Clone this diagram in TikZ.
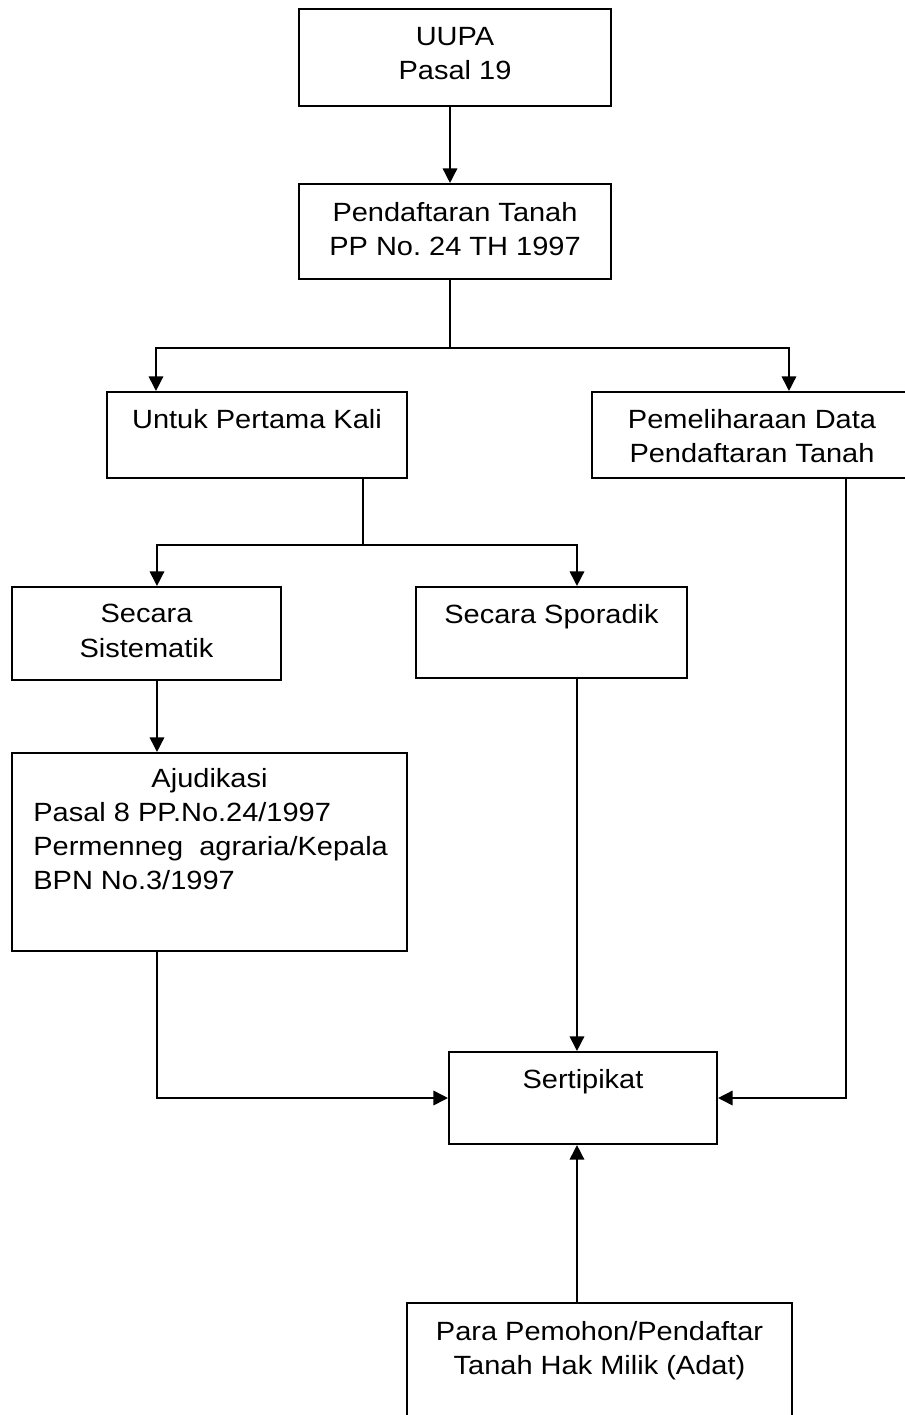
\documentclass[tikz,border=0pt]{standalone}
\usepackage{fontspec}
\setmainfont{Liberation Sans}[FakeStretch=1.1]
\usepackage{tikz}
\usetikzlibrary{calc, arrows.meta, positioning}

\tikzset{
  kotak/.style={draw, line width=1.2pt, inner sep=0pt},
  isi/.style={align=center, inner sep=0pt, anchor=north, font=\fontsize{15}{19.5}\selectfont\frenchspacing},
  panah/.style={line width=0.9pt, -{Triangle[length=0.29cm, width=0.29cm]}},
  garis/.style={line width=0.9pt}
}

\begin{document}
\begin{tikzpicture}[x=0.02cm, y=-0.02cm]
\clip (0,0) rectangle (905,1415);
\fill[white] (0,0) rectangle (905,1415);

% kotak-kotak
\node[kotak, minimum width=6.24cm, minimum height=1.94cm] (uupa) at (455,57.5) {};
\node[kotak, minimum width=6.24cm, minimum height=1.90cm] (daftar) at (455,231.5) {};
\node[kotak, minimum width=6.00cm, minimum height=1.72cm] (pertama) at (257,435) {};
\node[kotak, minimum width=6.40cm, minimum height=1.72cm] (pelihara) at (752,435) {};
\node[kotak, minimum width=5.38cm, minimum height=1.86cm] (sistematik) at (146.5,633.5) {};
\node[kotak, minimum width=5.42cm, minimum height=1.82cm] (sporadik) at (551.5,632.5) {};
\node[kotak, minimum width=7.90cm, minimum height=3.96cm] (ajudikasi) at (209.5,852) {};
\node[kotak, minimum width=5.36cm, minimum height=1.84cm] (sertipikat) at (583,1098) {};
\node[kotak, minimum width=7.70cm, minimum height=2.74cm] (pemohon) at (599.5,1371.5) {};

% tulisan
\node[isi] (tuupa) at (455,27) {UUPA\\Pasal 19};
\node[isi] (tdaftar) at (455,202) {Pendaftaran Tanah\\PP No. 24 TH 1997};
\node[isi] (tpertama) at (257,409) {Untuk Pertama Kali};
\node[isi] (tpelihara) at (752,409) {Pemeliharaan Data\\Pendaftaran Tanah};
\node[isi] (tsistematik) at (146.5,604) {Secara\\Sistematik};
\node[isi] (tsporadik) at (551.5,604) {Secara Sporadik};
\node[isi] (tajudikasi) at (209.5,768) {Ajudikasi};
\node[isi, align=left, anchor=north west] (tdasar) at (33,802)
  {Pasal 8 PP.No.24/1997\\Permenneg\ \ agraria/Kepala\\BPN No.3/1997};
\node[isi] (tsertipikat) at (583,1069) {Sertipikat};
\node[isi] (tpemohon) at (599.5,1321) {Para Pemohon/Pendaftar\\Tanah Hak Milik (Adat)};

% penghubung
\coordinate (j1) at (450,348);
\coordinate (j2) at (363,545);
\draw[panah] (uupa.south -| j1) -- (daftar.north -| j1);
\draw[garis] (daftar.south -| j1) -- (j1);
\draw[panah] (j1) -| ($(pertama.north west)+(50,0)$);
\draw[panah] (j1) -| ($(pelihara.north west)+(198,0)$);
\draw[garis] (pertama.south -| j2) -- (j2);
\draw[panah] (j2) -| ($(sistematik.north west)+(146,0)$);
\draw[panah] (j2) -| ($(sporadik.north west)+(162,0)$);
\draw[panah] ($(sistematik.south west)+(146,0)$) -- ($(ajudikasi.north west)+(146,0)$);
\draw[panah] ($(sporadik.south west)+(162,0)$) -- ($(sertipikat.north west)+(129,0)$);
\draw[panah] ($(ajudikasi.south west)+(146,0)$) |- (sertipikat.west);
\draw[panah] ($(pelihara.south west)+(255,0)$) |- (sertipikat.east);
\draw[panah] ($(pemohon.north west)+(171,0)$) -- ($(sertipikat.south west)+(129,0)$);
\end{tikzpicture}
\end{document}
